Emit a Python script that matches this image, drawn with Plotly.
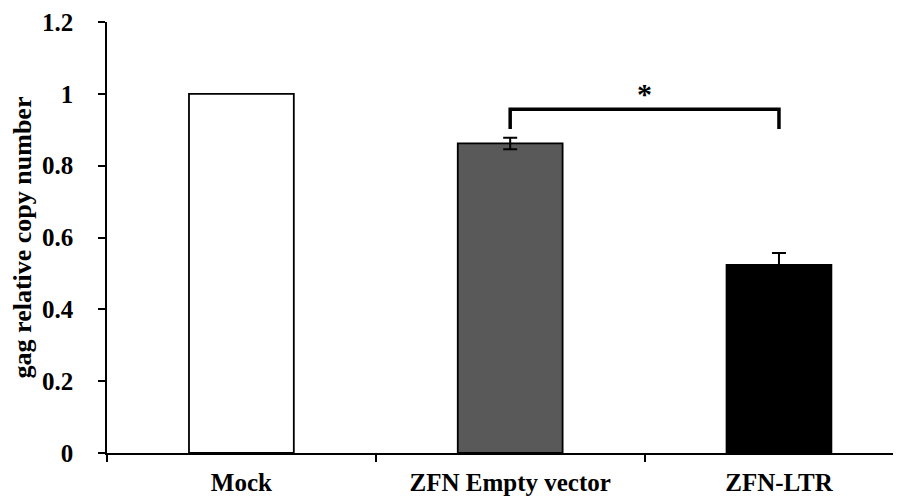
import plotly.graph_objects as go

categories = ["Mock", "ZFN Empty vector", "ZFN-LTR"]
values = [1.0, 0.862, 0.524]
errors = [None, 0.016, 0.033]
bar_colors = ["#ffffff", "#595959", "#000000"]
y_ticks = [0, 0.2, 0.4, 0.6, 0.8, 1.0, 1.2]
y_tick_labels = ["0", "0.2", "0.4", "0.6", "0.8", "1", "1.2"]
bracket_pair = ["ZFN Empty vector", "ZFN-LTR"]
bracket_low = 0.902
bracket_high = 0.957
star_y = 0.95

FONT = "Liberation Serif, Times New Roman, serif"

fig = go.Figure()
fig.add_trace(go.Bar(
    x=categories, y=values,
    marker=dict(color=bar_colors, line=dict(color="black", width=1.8)),
    width=0.39,
    showlegend=False,
))
# error bars (only where a value exists)
err_x = [c for c, e in zip(categories, errors) if e is not None]
err_y = [v for v, e in zip(values, errors) if e is not None]
err_v = [e for e in errors if e is not None]
fig.add_trace(go.Scatter(
    x=err_x, y=err_y, mode="markers",
    marker=dict(size=1, color="rgba(0,0,0,0)"),
    error_y=dict(type="data", array=err_v, visible=True,
                 color="black", thickness=2, width=7),
    showlegend=False, hoverinfo="skip",
))

# significance bracket
fig.add_trace(go.Scatter(
    x=[bracket_pair[0], bracket_pair[0], bracket_pair[1], bracket_pair[1]],
    y=[bracket_low, bracket_high, bracket_high, bracket_low],
    mode="lines", line=dict(color="black", width=3.5), showlegend=False,
    hoverinfo="skip",
))
i0 = categories.index(bracket_pair[0])
i1 = categories.index(bracket_pair[1])
fig.add_annotation(x=(i0 + i1) / 2, y=star_y, text="*", showarrow=False,
                   xref="x", yref="y", yanchor="bottom",
                   font=dict(family=FONT, size=30, color="black", weight="bold"))

fig.update_layout(
    width=893, height=493,
    margin=dict(l=99, r=0, t=14, b=48),
    paper_bgcolor="white", plot_bgcolor="white",
    font=dict(family=FONT, color="black"),
)
fig.update_xaxes(
    type="category", range=[-0.5, 2.454], automargin=False,
    showline=True, linecolor="black", linewidth=1.5,
    ticks="outside", tickson="boundaries", ticklen=7, tickwidth=1.5, tickcolor="black",
    ticklabelstandoff=6,
    tickfont=dict(family=FONT, size=25, color="black", weight="bold"),
    showgrid=False, zeroline=False,
)
fig.update_yaxes(
    range=[0, 1.2], tickvals=y_ticks, ticktext=y_tick_labels, automargin=False,
    showline=True, linecolor="black", linewidth=1.5,
    ticks="outside", ticklen=7, tickwidth=1.5, tickcolor="black",
    ticklabelstandoff=20,
    tickfont=dict(family=FONT, size=25, color="black", weight="bold"),
    showgrid=False, zeroline=False,
    title=dict(text="gag relative copy number", standoff=8,
               font=dict(family=FONT, size=26, color="black", weight="bold")),
)

fig.write_html("out.html")
